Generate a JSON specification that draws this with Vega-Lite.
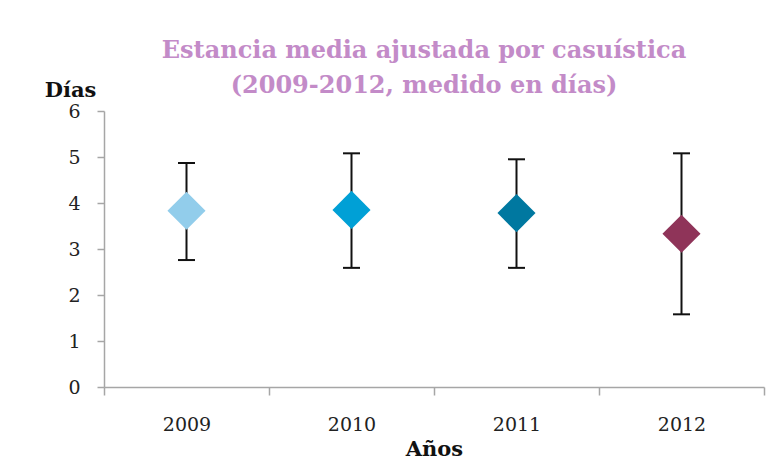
{
  "$schema": "https://vega.github.io/schema/vega-lite/v6.json",
  "width": 660,
  "height": 276,
  "autosize": "none",
  "padding": {"left": 104, "top": 111, "right": 3, "bottom": 89},
  "background": "white",
  "title": {
    "text": ["Estancia media ajustada por casuística", "(2009-2012, medido en  días)"],
    "font": "DejaVu Serif",
    "fontSize": 24,
    "fontWeight": "bold",
    "color": "#c38bc8",
    "anchor": "middle",
    "dx": -10,
    "dy": 34,
    "offset": 15,
    "lineHeight": 35
  },
  "config": {
    "view": {"stroke": null},
    "axisY": {
      "titleAngle": 0,
      "titleX": -34,
      "titleY": -15,
      "titleAlign": "center",
      "titleBaseline": "alphabetic",
      "titleFont": "DejaVu Serif",
      "titleFontSize": 21,
      "titleFontWeight": "bold",
      "titleColor": "#111",
      "labelFont": "DejaVu Serif",
      "labelFontSize": 19,
      "labelColor": "#222",
      "labelPadding": 17,
      "domainColor": "#a6a6a6",
      "domainWidth": 1.5,
      "tickColor": "#a6a6a6",
      "tickWidth": 1.5,
      "tickSize": 7,
      "tickCount": 6,
      "grid": false
    }
  },
  "data": {
    "values": [
      {"year": "2009", "media": 3.83, "low": 2.76, "high": 4.87},
      {"year": "2010", "media": 3.85, "low": 2.59, "high": 5.08},
      {"year": "2011", "media": 3.78, "low": 2.59, "high": 4.95},
      {"year": "2012", "media": 3.33, "low": 1.58, "high": 5.08}
    ]
  },
  "encoding": {
    "x": {
      "field": "year",
      "type": "nominal",
      "scale": {"paddingInner": 0, "paddingOuter": 0},
      "axis": {
        "title": "Años",
        "titleFont": "DejaVu Serif",
        "titleFontSize": 21,
        "titleFontWeight": "bold",
        "titleColor": "#111",
        "titleY": 68,
        "titleBaseline": "alphabetic",
        "labelAngle": 0,
        "labelFont": "DejaVu Serif",
        "labelFontSize": 19,
        "labelColor": "#222",
        "labelPadding": 20,
        "domainColor": "#a6a6a6",
        "domainWidth": 1.5,
        "tickColor": "#a6a6a6",
        "tickWidth": 1.5,
        "tickSize": 8,
        "tickBand": "extent",
        "grid": false
      }
    }
  },
  "layer": [
    {
      "mark": {"type": "rule", "color": "#111", "strokeWidth": 2},
      "encoding": {
        "y": {
          "field": "low",
          "type": "quantitative",
          "title": "Días",
          "scale": {"domain": [0, 6], "nice": false}
        },
        "y2": {"field": "high"}
      }
    },
    {
      "mark": {"type": "tick", "color": "#111", "thickness": 2, "size": 17, "opacity": 1},
      "encoding": {"y": {"field": "low", "type": "quantitative", "title": "Días"}}
    },
    {
      "mark": {"type": "tick", "color": "#111", "thickness": 2, "size": 17, "opacity": 1},
      "encoding": {"y": {"field": "high", "type": "quantitative", "title": "Días"}}
    },
    {
      "mark": {"type": "point", "shape": "diamond", "filled": true, "size": 1450, "opacity": 1},
      "encoding": {
        "y": {"field": "media", "type": "quantitative", "title": "Días"},
        "color": {
          "field": "year",
          "type": "nominal",
          "scale": {"domain": ["2009", "2010", "2011", "2012"], "range": ["#92cdeb", "#00a0d6", "#0078a0", "#8f3459"]},
          "legend": null
        }
      }
    }
  ]
}
